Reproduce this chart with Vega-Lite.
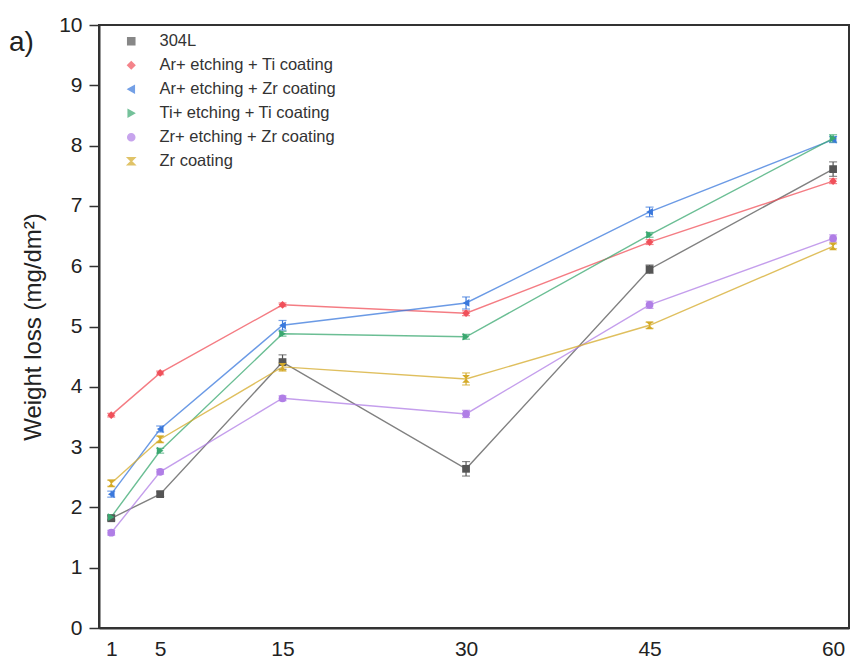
{
  "$schema": "https://vega.github.io/schema/vega-lite/v6.json",
  "width": 750,
  "height": 603,
  "autosize": "none",
  "padding": {"left": 99, "top": 25, "right": 6, "bottom": 38},
  "background": "white",
  "config": {
    "font": "Liberation Sans",
    "view": {"stroke": "#333", "strokeWidth": 2},
    "axis": {"domainColor": "#333", "domainWidth": 2, "tickColor": "#333", "tickWidth": 1.5, "labelColor": "#222", "titleColor": "#222", "grid": false}
  },
  "title": {"text": "a)", "anchor": "start", "frame": "group", "orient": "top", "baseline": "top", "dx": -90, "dy": 47, "fontSize": 28, "fontWeight": "normal", "color": "#222"},
  "data": {"values": [
    {"series": "304L", "t": 1, "w": 1.82, "e": 0.04},
    {"series": "304L", "t": 5, "w": 2.22, "e": 0.04},
    {"series": "304L", "t": 15, "w": 4.41, "e": 0.12},
    {"series": "304L", "t": 30, "w": 2.64, "e": 0.12},
    {"series": "304L", "t": 45, "w": 5.95, "e": 0.07},
    {"series": "304L", "t": 60, "w": 7.61, "e": 0.12},
    {"series": "Ar+ etching + Ti coating", "t": 1, "w": 3.53, "e": 0.03},
    {"series": "Ar+ etching + Ti coating", "t": 5, "w": 4.23, "e": 0.03},
    {"series": "Ar+ etching + Ti coating", "t": 15, "w": 5.36, "e": 0.03},
    {"series": "Ar+ etching + Ti coating", "t": 30, "w": 5.22, "e": 0.04},
    {"series": "Ar+ etching + Ti coating", "t": 45, "w": 6.4, "e": 0.04},
    {"series": "Ar+ etching + Ti coating", "t": 60, "w": 7.41, "e": 0.04},
    {"series": "Ar+ etching + Zr coating", "t": 1, "w": 2.22, "e": 0.05},
    {"series": "Ar+ etching + Zr coating", "t": 5, "w": 3.3, "e": 0.05},
    {"series": "Ar+ etching + Zr coating", "t": 15, "w": 5.02, "e": 0.08},
    {"series": "Ar+ etching + Zr coating", "t": 30, "w": 5.39, "e": 0.1},
    {"series": "Ar+ etching + Zr coating", "t": 45, "w": 6.9, "e": 0.08},
    {"series": "Ar+ etching + Zr coating", "t": 60, "w": 8.1, "e": 0.05},
    {"series": "Ti+ etching + Ti coating", "t": 1, "w": 1.84, "e": 0.04},
    {"series": "Ti+ etching + Ti coating", "t": 5, "w": 2.94, "e": 0.04},
    {"series": "Ti+ etching + Ti coating", "t": 15, "w": 4.88, "e": 0.04},
    {"series": "Ti+ etching + Ti coating", "t": 30, "w": 4.83, "e": 0.04},
    {"series": "Ti+ etching + Ti coating", "t": 45, "w": 6.52, "e": 0.04},
    {"series": "Ti+ etching + Ti coating", "t": 60, "w": 8.12, "e": 0.06},
    {"series": "Zr+ etching + Zr coating", "t": 1, "w": 1.58, "e": 0.04},
    {"series": "Zr+ etching + Zr coating", "t": 5, "w": 2.59, "e": 0.04},
    {"series": "Zr+ etching + Zr coating", "t": 15, "w": 3.81, "e": 0.04},
    {"series": "Zr+ etching + Zr coating", "t": 30, "w": 3.55, "e": 0.06},
    {"series": "Zr+ etching + Zr coating", "t": 45, "w": 5.36, "e": 0.06},
    {"series": "Zr+ etching + Zr coating", "t": 60, "w": 6.46, "e": 0.06},
    {"series": "Zr coating", "t": 1, "w": 2.4, "e": 0.05},
    {"series": "Zr coating", "t": 5, "w": 3.13, "e": 0.05},
    {"series": "Zr coating", "t": 15, "w": 4.33, "e": 0.07},
    {"series": "Zr coating", "t": 30, "w": 4.13, "e": 0.1},
    {"series": "Zr coating", "t": 45, "w": 5.02, "e": 0.05},
    {"series": "Zr coating", "t": 60, "w": 6.33, "e": 0.04}
  ]},
  "encoding": {
    "x": {"field": "t", "type": "quantitative",
      "scale": {"domain": [0, 61.3], "nice": false, "zero": false},
      "axis": {"values": [1, 5, 15, 30, 45, 60], "ticks": false, "labelFontSize": 21, "labelPadding": 10, "title": null, "labelFlush": false}},
    "y": {"field": "w", "type": "quantitative",
      "scale": {"domain": [0, 10], "nice": false},
      "axis": {"values": [0, 1, 2, 3, 4, 5, 6, 7, 8, 9, 10], "tickSize": 10, "labelFontSize": 21, "labelPadding": 7, "title": "Weight loss (mg/dm²)", "titleFontSize": 24, "titleFontWeight": "normal", "titlePadding": 13}},
    "color": {"field": "series", "type": "nominal",
      "scale": {"domain": ["304L", "Ar+ etching + Ti coating", "Ar+ etching + Zr coating", "Ti+ etching + Ti coating", "Zr+ etching + Zr coating", "Zr coating"],
        "range": ["#555555", "#f0505a", "#3a78dc", "#3aa870", "#b07ee6", "#d4aa28"]},
      "legend": {"orient": "none", "legendX": 24, "legendY": 8, "title": null, "labelFontSize": 16.5, "labelLimit": 400, "labelColor": "#333", "symbolSize": 50, "rowPadding": 7, "labelOffset": 20, "padding": 0}}
  },
  "layer": [
    {"mark": {"type": "errorbar", "ticks": {"size": 8}, "thickness": 1.2}, "encoding": {"yError": {"field": "e"}}},
    {"mark": {"type": "line", "strokeWidth": 1.4, "opacity": 0.75}, "encoding": {}},
    {"mark": {"type": "point", "filled": true, "size": 60, "opacity": 1},
      "encoding": {"shape": {"field": "series", "type": "nominal",
        "scale": {"domain": ["304L", "Ar+ etching + Ti coating", "Ar+ etching + Zr coating", "Ti+ etching + Ti coating", "Zr+ etching + Zr coating", "Zr coating"],
          "range": ["square", "diamond", "triangle-left", "triangle-right", "circle", "M-1,-1L1,-1L-1,1L1,1Z"]},
        "legend": {"orient": "none", "legendX": 24, "legendY": 8, "title": null, "labelFontSize": 16.5, "labelLimit": 400, "labelColor": "#333", "symbolSize": 50, "rowPadding": 7, "labelOffset": 20, "padding": 0}}}}
  ]
}
